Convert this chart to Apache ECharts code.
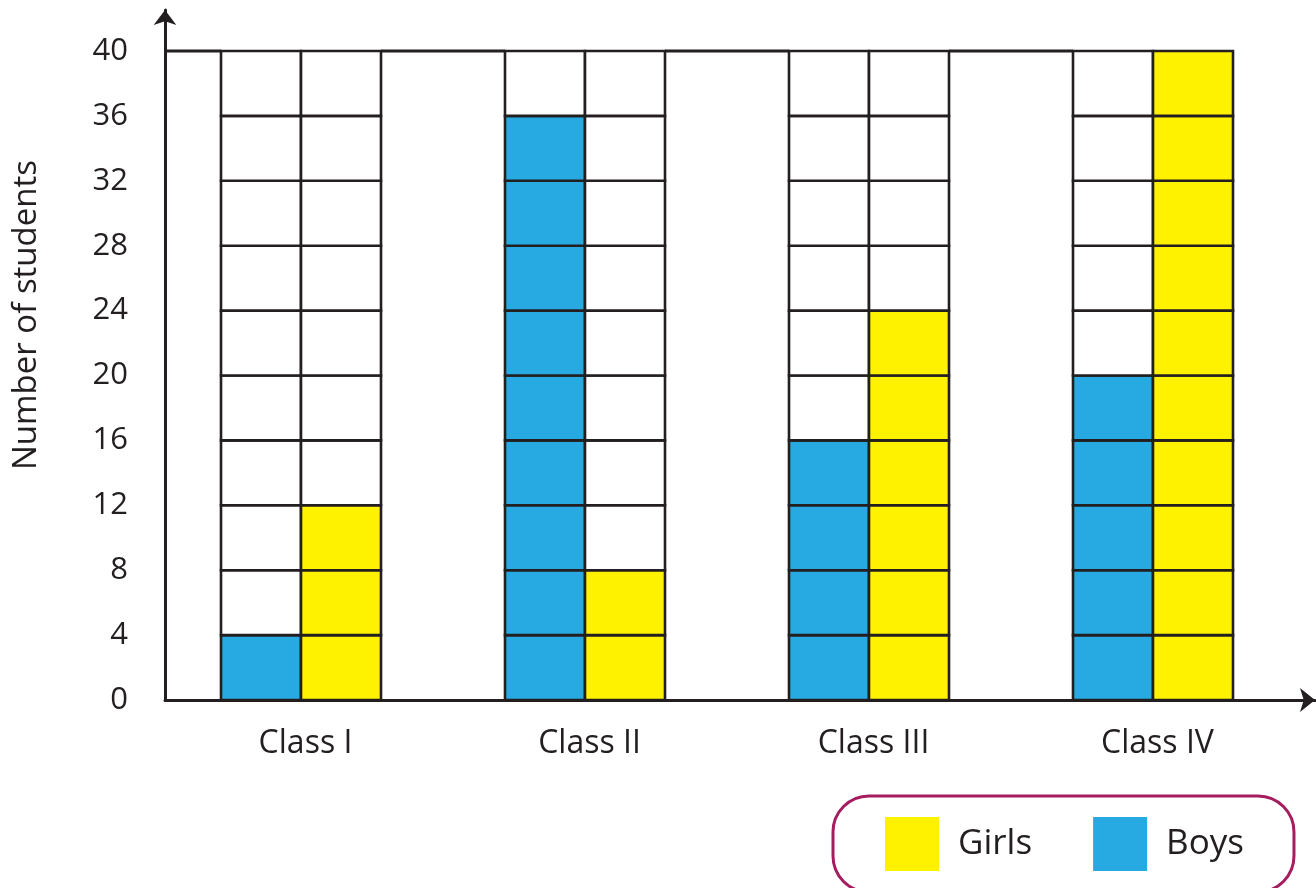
<!DOCTYPE html>
<html>
<head>
<meta charset="utf-8">
<script src="https://cdn.jsdelivr.net/npm/echarts@6/dist/echarts.min.js"></script>
<style>
  html, body { margin: 0; padding: 0; background: #ffffff; }
  #chart { width: 1316px; height: 888px; }
</style>
</head>
<body>
<div id="chart"></div>
<script>
// ---- data ----
const classes = ['Class I', 'Class II', 'Class III', 'Class IV'];
const boys = [4, 36, 16, 20];
const girls = [12, 8, 24, 40];
const yMin = 0;
const yMax = 40;
const yStep = 4;
const legendNames = ['Girls', 'Boys'];
const yAxisTitle = 'Number of students';

// ---- styles ----
const FONT = '"Open Sans", "Noto Sans", sans-serif';
const INK = '#231f20';
const BLUE = '#27aae1';
const YELLOW = '#fff200';
const FRAME = '#a51d5f';
const COL_RATIO = 80 / 284;   // width of one column relative to the category band
const AXIS_SHIFT = 6;         // y-axis line sits 6px right of the data grid's left edge

function makeRender(side, fill) {
  return function (params, api) {
    const ci = api.value(0);
    const v = api.value(1);
    const band = api.size([1, 0])[0];
    const colW = band * COL_RATIO;
    const center = api.coord([ci, 0])[0];
    const x0 = side === 'left' ? center - colW : center;
    const children = [];
    for (let k = yMin; k < yMax; k += yStep) {
      const top = api.coord([ci, k + yStep])[1];
      const bot = api.coord([ci, k])[1];
      children.push({
        type: 'rect',
        shape: { x: x0, y: top, width: colW, height: bot - top },
        style: { fill: (k + yStep) <= v ? fill : '#ffffff', stroke: INK, lineWidth: 2.6 }
      });
    }
    if (side === 'left') {
      // top boundary line joining the previous column (or the y axis) to this column at the max value
      const yTop = api.coord([ci, yMax])[1];
      const startX = ci === 0 ? params.coordSys.x + AXIS_SHIFT : center - band + colW;
      children.push({
        type: 'line',
        shape: { x1: startX, y1: yTop, x2: x0, y2: yTop },
        style: { stroke: INK, lineWidth: 3 }
      });
    }
    return { type: 'group', children: children };
  };
}

const chart = echarts.init(document.getElementById('chart'), null, { renderer: 'canvas' });

const option = {
  animation: false,
  backgroundColor: '#ffffff',
  textStyle: { fontFamily: FONT },
  grid: [
    { left: 159, right: 21, top: 51, bottom: 188 },   // data grid
    { left: 165, right: 1, top: 10, bottom: 188 }     // axes-with-arrows grid
  ],
  xAxis: [
    {
      type: 'category',
      gridIndex: 0,
      data: classes,
      axisLine: { show: false },
      axisTick: { show: false },
      splitLine: { show: false },
      axisLabel: { color: INK, fontSize: 32, fontFamily: FONT, margin: 28, padding: [0, 0, 0, 9] }
    },
    {
      type: 'value', gridIndex: 1, min: 0, max: 1,
      axisLine: { show: true, symbol: ['none', 'arrow'], symbolSize: [18, 15],
                  lineStyle: { color: INK, width: 3 } },
      axisTick: { show: false }, axisLabel: { show: false }, splitLine: { show: false }
    }
  ],
  yAxis: [
    {
      type: 'value',
      gridIndex: 0,
      min: yMin, max: yMax, interval: yStep,
      axisLine: { show: false },
      axisTick: { show: false },
      splitLine: { show: false },
      axisLabel: { color: INK, fontSize: 31, fontFamily: FONT, margin: 31 }
    },
    {
      type: 'value', gridIndex: 1, min: 0, max: 1,
      axisLine: { show: true, symbol: ['none', 'arrow'], symbolSize: [17, 15],
                  lineStyle: { color: INK, width: 3 } },
      axisTick: { show: false }, axisLabel: { show: false }, splitLine: { show: false }
    }
  ],
  legend: {
    left: 833, top: 796,
    orient: 'horizontal',
    selectedMode: false,
    data: [
      { name: legendNames[0], itemStyle: { color: YELLOW, borderWidth: 0 } },
      { name: legendNames[1], itemStyle: { color: BLUE, borderWidth: 0 } }
    ],
    icon: 'rect',
    itemWidth: 54, itemHeight: 54, itemGap: 61,
    padding: [21, 50, 21, 52],
    borderColor: FRAME, borderWidth: 3, borderRadius: 36,
    textStyle: { fontSize: 35, color: INK, fontFamily: FONT, width: 80, padding: [0, 0, 0, 14] }
  },
  graphic: [
    {
      type: 'text',
      x: 27, y: 315,
      rotation: Math.PI / 2,
      style: {
        text: yAxisTitle,
        font: '33px "Open Sans", "Noto Sans", sans-serif',
        fill: INK,
        textAlign: 'center', textVerticalAlign: 'middle',
        align: 'center', verticalAlign: 'middle'
      }
    }
  ],
  series: [
    {
      name: legendNames[1],
      type: 'custom',
      xAxisIndex: 0, yAxisIndex: 0,
      itemStyle: { color: BLUE },
      renderItem: makeRender('left', BLUE),
      encode: { x: 0, y: 1 },
      data: boys.map((v, i) => [i, v]),
      z: 2
    },
    {
      name: legendNames[0],
      type: 'custom',
      xAxisIndex: 0, yAxisIndex: 0,
      itemStyle: { color: YELLOW },
      renderItem: makeRender('right', YELLOW),
      encode: { x: 0, y: 1 },
      data: girls.map((v, i) => [i, v]),
      z: 2
    }
  ]
};

chart.setOption(option);
</script>
</body>
</html>
